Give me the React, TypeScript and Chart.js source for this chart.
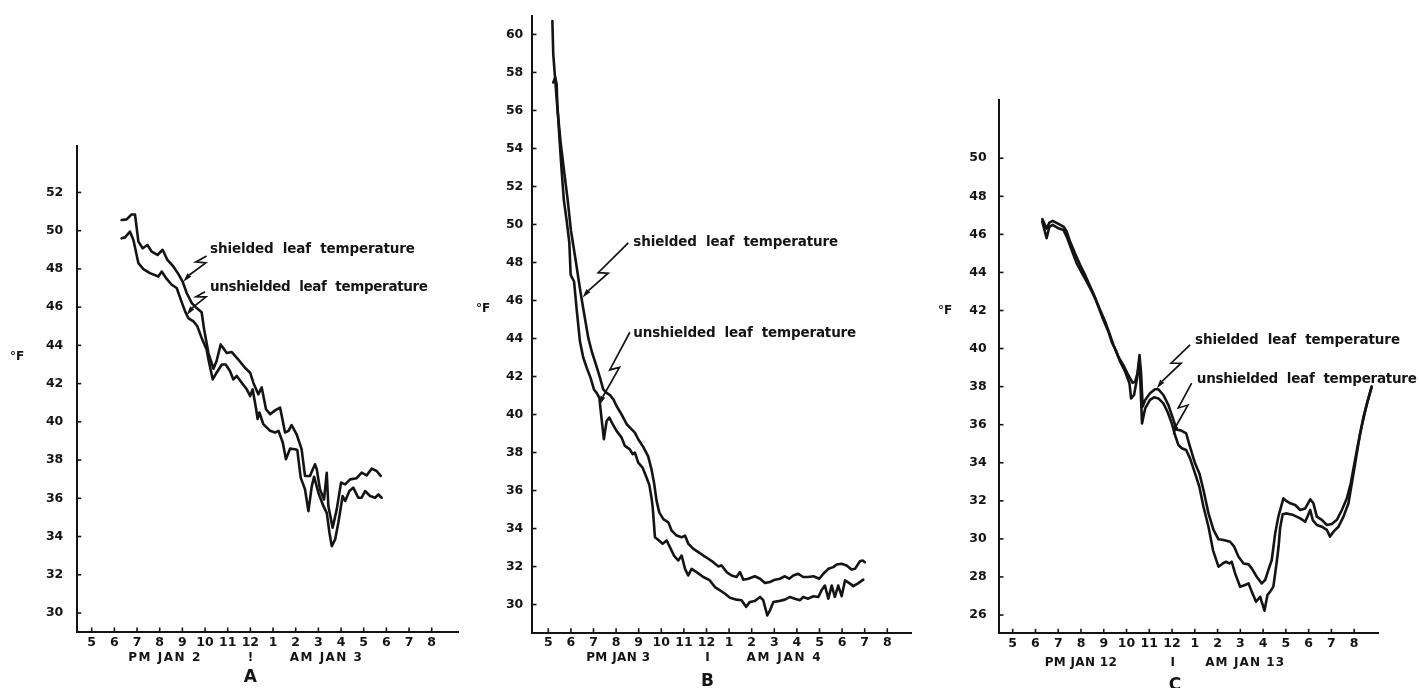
import { useEffect, useRef } from 'react';
import { Chart, registerables } from 'chart.js';

Chart.register(...registerables);

const INK = '#141414';
const FONT = '"DejaVu Sans", sans-serif';

// ---------- tick labels ----------
const hourLabels = ['5', '6', '7', '8', '9', '10', '11', '12', '1', '2', '3', '4', '5', '6', '7', '8'];
const hourTicks = hourLabels.map((_, i) => i); // 0 = 5 PM ... 15 = 8 AM
const aTempTicks = [30, 32, 34, 36, 38, 40, 42, 44, 46, 48, 50, 52];
const bTempTicks = [30, 32, 34, 36, 38, 40, 42, 44, 46, 48, 50, 52, 54, 56, 58, 60];
const cTempTicks = [26, 28, 30, 32, 34, 36, 38, 40, 42, 44, 46, 48, 50];

// ---------- panel A (Jan 2-3) ----------
const aShieldedHours = [1.32, 1.54, 1.76, 1.91, 2.06, 2.25, 2.46, 2.65, 2.9, 3.13, 3.34, 3.6, 3.82, 4.01, 4.19, 4.41, 4.63, 4.85, 4.96, 5.15, 5.37, 5.51, 5.69, 5.96, 6.18, 6.47, 6.76, 6.99, 7.13, 7.35, 7.5, 7.69, 7.87, 8.09, 8.31, 8.53, 8.68, 8.82, 9.04, 9.26, 9.41, 9.63, 9.85, 9.93, 10.07, 10.25, 10.37, 10.44, 10.63, 10.81, 11.0, 11.18, 11.4, 11.69, 11.91, 12.13, 12.35, 12.57, 12.75];
const aShieldedTemps = [50.56, 50.59, 50.85, 50.85, 49.43, 49.08, 49.25, 48.9, 48.73, 49.0, 48.47, 48.13, 47.74, 47.34, 46.74, 46.22, 45.95, 45.73, 44.83, 43.6, 42.78, 43.18, 44.05, 43.6, 43.65, 43.26, 42.83, 42.57, 42.05, 41.44, 41.8, 40.66, 40.4, 40.6, 40.75, 39.44, 39.53, 39.83, 39.35, 38.57, 37.17, 37.17, 37.78, 37.52, 36.47, 35.94, 37.34, 35.6, 34.46, 35.42, 36.82, 36.73, 36.99, 37.05, 37.34, 37.2, 37.55, 37.43, 37.17];
const aUnshieldedHours = [1.32, 1.47, 1.69, 1.84, 2.06, 2.28, 2.57, 2.94, 3.09, 3.28, 3.53, 3.75, 3.93, 4.12, 4.26, 4.49, 4.66, 4.85, 5.07, 5.15, 5.34, 5.51, 5.74, 5.91, 6.1, 6.25, 6.4, 6.62, 6.84, 6.99, 7.1, 7.25, 7.32, 7.4, 7.57, 7.87, 8.09, 8.24, 8.43, 8.57, 8.75, 8.97, 9.07, 9.22, 9.41, 9.56, 9.71, 9.81, 10.0, 10.22, 10.37, 10.49, 10.59, 10.74, 10.88, 11.07, 11.18, 11.37, 11.54, 11.76, 11.91, 12.06, 12.28, 12.5, 12.65, 12.79];
const aUnshieldedTemps = [49.6, 49.65, 49.95, 49.51, 48.3, 47.99, 47.78, 47.6, 47.86, 47.52, 47.17, 47.0, 46.39, 45.78, 45.43, 45.26, 45.0, 44.39, 43.78, 43.26, 42.22, 42.57, 43.0, 43.0, 42.66, 42.22, 42.4, 42.05, 41.7, 41.35, 41.7, 40.7, 40.15, 40.49, 39.88, 39.53, 39.44, 39.53, 38.92, 38.04, 38.6, 38.57, 38.53, 37.08, 36.47, 35.33, 36.64, 37.13, 36.29, 35.6, 35.24, 34.2, 33.5, 33.85, 34.72, 36.12, 35.86, 36.38, 36.56, 36.03, 36.03, 36.38, 36.12, 36.03, 36.2, 36.03];

// ---------- panel B (Jan 3-4) ----------
const bShieldedHours = [0.18, 0.22, 0.31, 0.41, 0.55, 0.71, 0.86, 1.0, 1.12, 1.22, 1.33, 1.47, 1.62, 1.77, 1.92, 2.11, 2.29, 2.43, 2.58, 2.73, 2.88, 3.02, 3.24, 3.47, 3.69, 3.83, 3.98, 4.2, 4.42, 4.57, 4.68, 4.79, 4.91, 5.09, 5.31, 5.46, 5.68, 5.9, 6.05, 6.2, 6.42, 6.64, 6.86, 7.08, 7.3, 7.52, 7.67, 7.89, 8.11, 8.33, 8.48, 8.63, 8.85, 9.14, 9.37, 9.59, 9.81, 10.03, 10.25, 10.47, 10.66, 10.84, 11.06, 11.28, 11.5, 11.73, 11.99, 12.17, 12.39, 12.61, 12.76, 12.98, 13.2, 13.42, 13.57, 13.79, 13.91, 14.01];
const bShieldedTemps = [60.7, 58.95, 57.56, 56.0, 54.27, 52.7, 51.27, 49.7, 48.8, 48.05, 47.17, 46.12, 45.07, 44.03, 43.33, 42.63, 41.93, 41.32, 41.14, 41.02, 40.8, 40.45, 40.01, 39.49, 39.22, 39.05, 38.7, 38.3, 37.8, 37.1, 36.4, 35.47, 34.85, 34.5, 34.33, 33.89, 33.63, 33.54, 33.63, 33.19, 32.93, 32.76, 32.58, 32.41, 32.23, 32.01, 32.06, 31.71, 31.53, 31.45, 31.71, 31.31, 31.36, 31.49, 31.36, 31.13, 31.19, 31.31, 31.36, 31.49, 31.36, 31.53, 31.62, 31.45, 31.45, 31.49, 31.36, 31.62, 31.88, 31.97, 32.11, 32.15, 32.06, 31.84, 31.88, 32.28, 32.32, 32.23];
const bUnshieldedHours = [0.22, 0.31, 0.37, 0.4, 0.49, 0.59, 0.69, 0.81, 0.93, 0.99, 1.14, 1.25, 1.4, 1.55, 1.7, 1.87, 2.02, 2.14, 2.26, 2.32, 2.46, 2.58, 2.7, 2.85, 3.02, 3.24, 3.39, 3.61, 3.73, 3.83, 3.98, 4.17, 4.32, 4.47, 4.57, 4.62, 4.72, 4.87, 5.06, 5.24, 5.38, 5.56, 5.75, 5.9, 6.05, 6.19, 6.34, 6.56, 6.86, 7.15, 7.37, 7.6, 7.82, 8.04, 8.33, 8.55, 8.75, 8.92, 9.14, 9.37, 9.51, 9.69, 9.81, 9.96, 10.18, 10.47, 10.69, 10.91, 11.14, 11.28, 11.5, 11.73, 11.95, 12.09, 12.24, 12.39, 12.54, 12.68, 12.83, 12.98, 13.13, 13.35, 13.5, 13.72, 13.94];
const bUnshieldedTemps = [57.47, 57.73, 57.38, 56.34, 54.6, 52.85, 51.27, 50.23, 49.05, 47.35, 47.0, 45.6, 43.85, 42.98, 42.46, 41.93, 41.32, 41.14, 40.88, 40.18, 38.7, 39.66, 39.84, 39.49, 39.14, 38.79, 38.35, 38.17, 37.91, 38.0, 37.47, 37.21, 36.77, 36.3, 35.6, 35.11, 33.54, 33.4, 33.2, 33.37, 33.02, 32.58, 32.32, 32.58, 31.88, 31.53, 31.88, 31.71, 31.45, 31.27, 30.92, 30.75, 30.57, 30.36, 30.26, 30.23, 29.88, 30.14, 30.19, 30.4, 30.23, 29.43, 29.7, 30.14, 30.18, 30.26, 30.4, 30.31, 30.23, 30.4, 30.31, 30.44, 30.4, 30.75, 31.0, 30.31, 31.0, 30.4, 31.0, 30.44, 31.27, 31.1, 30.97, 31.13, 31.31];

// ---------- panel C (Jan 12-13) ----------
const cShieldedHours = [1.3, 1.49, 1.61, 1.76, 2.01, 2.23, 2.37, 2.52, 2.74, 2.96, 3.18, 3.37, 3.54, 3.69, 3.87, 4.06, 4.25, 4.42, 4.64, 4.86, 5.04, 5.16, 5.27, 5.38, 5.48, 5.57, 5.64, 5.71, 5.82, 6.03, 6.25, 6.4, 6.62, 6.84, 7.06, 7.2, 7.43, 7.62, 7.79, 8.01, 8.2, 8.38, 8.6, 8.82, 9.04, 9.26, 9.55, 9.73, 9.92, 10.14, 10.36, 10.5, 10.72, 10.94, 11.09, 11.23, 11.38, 11.53, 11.67, 11.89, 11.97, 12.19, 12.41, 12.63, 12.85, 13.07, 13.21, 13.36, 13.58, 13.8, 14.02, 14.24, 14.46, 14.68, 14.85, 15.12, 15.41, 15.77];
const cShieldedTemps = [46.8, 46.3, 46.62, 46.71, 46.55, 46.41, 46.15, 45.62, 45.0, 44.4, 43.87, 43.35, 42.9, 42.47, 41.94, 41.42, 40.8, 40.2, 39.57, 39.13, 38.7, 38.43, 38.2, 38.26, 38.7, 39.66, 38.7, 36.95, 37.3, 37.65, 37.86, 37.86, 37.56, 37.03, 36.25, 35.75, 35.68, 35.54, 34.84, 33.97, 33.44, 32.57, 31.34, 30.47, 29.98, 29.94, 29.85, 29.59, 29.06, 28.71, 28.66, 28.45, 28.01, 27.66, 27.84, 28.36, 28.89, 30.29, 31.17, 32.13, 32.04, 31.87, 31.78, 31.52, 31.6, 32.08, 31.87, 31.17, 31.0, 30.73, 30.78, 31.0, 31.52, 32.13, 32.92, 34.67, 36.42, 38.0];
const cUnshieldedHours = [1.3, 1.49, 1.61, 1.76, 2.01, 2.23, 2.4, 2.59, 2.81, 3.03, 3.25, 3.44, 3.62, 3.79, 3.98, 4.2, 4.35, 4.55, 4.72, 4.94, 5.13, 5.2, 5.33, 5.45, 5.57, 5.68, 5.82, 6.03, 6.21, 6.4, 6.62, 6.8, 6.99, 7.13, 7.28, 7.43, 7.62, 7.79, 8.01, 8.2, 8.38, 8.6, 8.8, 9.04, 9.23, 9.37, 9.52, 9.62, 9.77, 9.99, 10.21, 10.36, 10.5, 10.69, 10.87, 11.06, 11.19, 11.31, 11.45, 11.6, 11.68, 11.75, 11.86, 12.04, 12.33, 12.63, 12.85, 13.07, 13.18, 13.36, 13.58, 13.8, 13.94, 14.09, 14.31, 14.53, 14.75, 14.97, 15.26, 15.56, 15.77];
const cUnshieldedTemps = [46.67, 45.8, 46.4, 46.5, 46.32, 46.23, 45.8, 45.18, 44.48, 43.99, 43.52, 43.08, 42.64, 42.12, 41.51, 40.9, 40.35, 39.85, 39.31, 38.78, 38.17, 37.38, 37.56, 38.35, 39.4, 36.07, 36.86, 37.3, 37.44, 37.38, 37.12, 36.68, 36.07, 35.46, 34.93, 34.76, 34.67, 34.23, 33.44, 32.74, 31.69, 30.64, 29.4, 28.54, 28.71, 28.8, 28.71, 28.8, 28.19, 27.49, 27.58, 27.66, 27.23, 26.7, 26.96, 26.23, 27.05, 27.23, 27.49, 28.8, 29.6, 30.6, 31.3, 31.34, 31.25, 31.08, 30.9, 31.52, 30.99, 30.73, 30.64, 30.47, 30.12, 30.38, 30.64, 31.17, 31.87, 33.44, 35.54, 37.12, 38.0];

const SHIELDED = 'shielded  leaf  temperature';
const UNSHIELDED = 'unshielded  leaf  temperature';

type Legend = { text: string; h: number; v: number; width: number; from: [number, number]; to: [number, number]; jog: number };
type Sub = { h: number; text: string; width?: number };
type PanelCfg = {
  canvasLeft: number; canvasWidth: number;
  area: { L: number; T: number; R: number; B: number };
  xMin: number; xMax: number; yMin: number; yMax: number;
  yTicks: number[]; yPad: number; xPad: number;
  degF: { dx: number; v: number };
  subDy: number; letterDy: number;
  subs: Sub[]; letter: Sub;
  legends: Legend[];
  series: { hours: number[]; temps: number[]; label: string }[];
};

const panels: PanelCfg[] = [
  {
    canvasLeft: 0, canvasWidth: 470,
    area: { L: 76.7, T: 146, R: 458, B: 632 },
    xMin: -0.662, xMax: 16.16, yMin: 29.006, yMax: 54.43,
    yTicks: aTempTicks, yPad: 13.4, xPad: 3.5,
    degF: { dx: -59.7, v: 43.4 },
    subDy: 26, letterDy: 46,
    subs: [{ h: 3.2, text: 'PM JAN 2', width: 72 }, { h: 7, text: '!' }, { h: 10.33, text: 'AM JAN 3', width: 72 }],
    letter: { h: 7, text: 'A' },
    legends: [
      { text: SHIELDED, h: 5.22, v: 48.99, width: 205, from: [5.07, 48.68], to: [4.04, 47.33], jog: 0.25 },
      { text: UNSHIELDED, h: 5.22, v: 47.04, width: 218, from: [5.0, 46.81], to: [4.19, 45.59], jog: 0.22 },
    ],
    series: [
      { hours: aShieldedHours, temps: aShieldedTemps, label: 'shielded leaf temperature' },
      { hours: aUnshieldedHours, temps: aUnshieldedTemps, label: 'unshielded leaf temperature' },
    ],
  },
  {
    canvasLeft: 470, canvasWidth: 460,
    area: { L: 532, T: 11.7, R: 911.7, B: 632.7 },
    xMin: -0.721, xMax: 16.08, yMin: 28.52, yMax: 60.96,
    yTicks: bTempTicks, yPad: 8.7, xPad: 2.1,
    degF: { dx: -49, v: 45.55 },
    subDy: 25.6, letterDy: 49,
    subs: [{ h: 3.09, text: 'PM JAN 3', width: 64 }, { h: 7.04, text: 'I' }, { h: 10.41, text: 'AM JAN 4', width: 74 }],
    letter: { h: 7.04, text: 'B' },
    legends: [
      { text: SHIELDED, h: 3.76, v: 49.07, width: 205, from: [3.54, 49.03], to: [1.52, 46.16], jog: 0.55 },
      { text: UNSHIELDED, h: 3.76, v: 44.24, width: 223, from: [3.61, 44.33], to: [2.26, 40.5], jog: 0.5 },
    ],
    series: [
      { hours: bShieldedHours, temps: bShieldedTemps, label: 'shielded leaf temperature' },
      { hours: bUnshieldedHours, temps: bUnshieldedTemps, label: 'unshielded leaf temperature' },
    ],
  },
  {
    canvasLeft: 930, canvasWidth: 490,
    area: { L: 999, T: 100, R: 1378.3, B: 633.3 },
    xMin: -0.602, xMax: 16.06, yMin: 25.04, yMax: 53.06,
    yTicks: cTempTicks, yPad: 12.3, xPad: 3.2,
    degF: { dx: -54, v: 41.99 },
    subDy: 30, letterDy: 52,
    subs: [{ h: 2.99, text: 'PM JAN 12', width: 72 }, { h: 7.03, text: 'I' }, { h: 10.19, text: 'AM JAN 13', width: 79 }],
    letter: { h: 7.13, text: 'C' },
    legends: [
      { text: SHIELDED, h: 8.01, v: 40.45, width: 205, from: [7.79, 40.19], to: [6.33, 37.91], jog: 0.42 },
      { text: UNSHIELDED, h: 8.09, v: 38.39, width: 220, from: [7.86, 38.18], to: [7.03, 35.46], jog: 0.45 },
    ],
    series: [
      { hours: cShieldedHours, temps: cShieldedTemps, label: 'shielded leaf temperature' },
      { hours: cUnshieldedHours, temps: cUnshieldedTemps, label: 'unshielded leaf temperature' },
    ],
  },
];

function drawText(ctx: CanvasRenderingContext2D, text: string, x: number, y: number, font: string, width: number | undefined, align: 'left' | 'center') {
  ctx.font = font;
  ctx.textBaseline = 'middle';
  ctx.textAlign = 'left';
  (ctx as any).letterSpacing = '0px';
  let w = ctx.measureText(text).width;
  if (width && text.length > 1) {
    const ls = (width - w) / (text.length - 1);
    (ctx as any).letterSpacing = ls + 'px';
    w = width;
  }
  const x0 = align === 'center' ? x - w / 2 : x;
  ctx.fillText(text, x0, y);
  (ctx as any).letterSpacing = '0px';
}

function drawArrow(ctx: CanvasRenderingContext2D, x0: number, y0: number, x1: number, y1: number, jog: number) {
  const dx = x1 - x0, dy = y1 - y0;
  const len = Math.hypot(dx, dy);
  const ux = dx / len, uy = dy / len;
  const nx = -uy, ny = ux;
  const mx = x0 + dx * jog, my = y0 + dy * jog;
  const ax = mx + ux * 3 + nx * 4, ay = my + uy * 3 + ny * 4;
  const bx = mx - ux * 3 - nx * 4, by = my - uy * 3 - ny * 4;
  const hx = x1 - ux * 9, hy = y1 - uy * 9;
  ctx.beginPath();
  ctx.moveTo(x0, y0);
  ctx.lineTo(ax, ay);
  ctx.lineTo(bx, by);
  ctx.lineTo(hx, hy);
  ctx.stroke();
  ctx.beginPath();
  ctx.moveTo(x1, y1);
  ctx.lineTo(hx + nx * 2.6, hy + ny * 2.6);
  ctx.lineTo(hx - nx * 2.6, hy - ny * 2.6);
  ctx.closePath();
  ctx.fill();
}

function makeDecor(cfg: PanelCfg) {
  return {
    id: 'decor',
    afterDraw(chart: any) {
      const { ctx, chartArea } = chart;
      const x = chart.scales.x;
      const y = chart.scales.y;
      ctx.save();
      ctx.strokeStyle = INK;
      ctx.fillStyle = INK;
      ctx.lineWidth = 1.6;
      // inward tick marks
      for (const t of y.ticks) {
        const py = y.getPixelForValue(t.value);
        ctx.beginPath();
        ctx.moveTo(chartArea.left, py);
        ctx.lineTo(chartArea.left + 4.5, py);
        ctx.stroke();
      }
      for (const t of x.ticks) {
        const px = x.getPixelForValue(t.value);
        ctx.beginPath();
        ctx.moveTo(px, chartArea.bottom);
        ctx.lineTo(px, chartArea.bottom - 4.5);
        ctx.stroke();
      }
      // unit label
      drawText(ctx, '°F', chartArea.left + cfg.degF.dx, y.getPixelForValue(cfg.degF.v), `bold 12px ${FONT}`, undefined, 'center');
      // second row labels
      for (const s of cfg.subs) {
        drawText(ctx, s.text, x.getPixelForValue(s.h), chartArea.bottom + cfg.subDy, `bold 12px ${FONT}`, s.width, 'center');
      }
      drawText(ctx, cfg.letter.text, x.getPixelForValue(cfg.letter.h), chartArea.bottom + cfg.letterDy, `bold 17px ${FONT}`, undefined, 'center');
      // series annotations
      ctx.lineWidth = 1.7;
      for (const l of cfg.legends) {
        drawText(ctx, l.text, x.getPixelForValue(l.h), y.getPixelForValue(l.v), `bold 13.5px ${FONT}`, l.width, 'left');
        drawArrow(ctx, x.getPixelForValue(l.from[0]), y.getPixelForValue(l.from[1]), x.getPixelForValue(l.to[0]), y.getPixelForValue(l.to[1]), l.jog);
      }
      ctx.restore();
    },
  };
}

function buildConfig(cfg: PanelCfg): any {
  const yWidth = cfg.area.L - cfg.canvasLeft;
  const xHeight = 688 - cfg.area.B;
  const padRight = cfg.canvasLeft + cfg.canvasWidth - cfg.area.R;
  const tickFont = { family: FONT, size: 12.5, weight: 'bold' as const };
  return {
    type: 'line',
    data: {
      datasets: cfg.series.map((s) => ({
        label: s.label,
        data: s.hours.map((h, i) => ({ x: h, y: s.temps[i] })),
        borderColor: INK,
        borderWidth: 2.6,
        pointRadius: 0,
        tension: 0,
        fill: false,
        borderJoinStyle: 'round',
        borderCapStyle: 'round',
      })),
    },
    options: {
      responsive: false,
      maintainAspectRatio: false,
      animation: false,
      devicePixelRatio: 1,
      events: [],
      layout: { padding: { top: cfg.area.T, right: padRight, left: 0, bottom: 0 } },
      plugins: { legend: { display: false }, tooltip: { enabled: false } },
      scales: {
        x: {
          type: 'linear',
          min: cfg.xMin,
          max: cfg.xMax,
          afterBuildTicks: (s: any) => { s.ticks = hourTicks.map((v) => ({ value: v })); },
          afterFit: (s: any) => { s.height = xHeight; },
          grid: { display: false, drawTicks: false },
          border: { display: true, color: INK, width: 2 },
          ticks: {
            autoSkip: false,
            maxRotation: 0,
            color: INK,
            font: tickFont,
            padding: cfg.xPad,
            callback: (v: any) => hourLabels[Math.round(Number(v))] ?? '',
          },
        },
        y: {
          type: 'linear',
          min: cfg.yMin,
          max: cfg.yMax,
          afterBuildTicks: (s: any) => { s.ticks = cfg.yTicks.map((v) => ({ value: v })); },
          afterFit: (s: any) => { s.width = yWidth; },
          grid: { display: false, drawTicks: false },
          border: { display: true, color: INK, width: 2 },
          ticks: { color: INK, font: tickFont, padding: cfg.yPad, callback: (v: any) => String(v) },
        },
      },
    },
    plugins: [makeDecor(cfg)],
  };
}

function Panel({ cfg }: { cfg: PanelCfg }) {
  const ref = useRef<HTMLCanvasElement>(null);
  useEffect(() => {
    const chart = new Chart(ref.current as HTMLCanvasElement, buildConfig(cfg));
    return () => chart.destroy();
  }, [cfg]);
  return (
    <canvas
      ref={ref}
      width={cfg.canvasWidth}
      height={688}
      style={{ position: 'absolute', left: cfg.canvasLeft, top: 0, width: cfg.canvasWidth, height: 688 }}
    />
  );
}

export default function App() {
  return (
    <div style={{ position: 'absolute', left: 0, top: 0, width: 1420, height: 688, background: '#fff', overflow: 'hidden' }}>
      {panels.map((p, i) => (
        <Panel key={i} cfg={p} />
      ))}
    </div>
  );
}
